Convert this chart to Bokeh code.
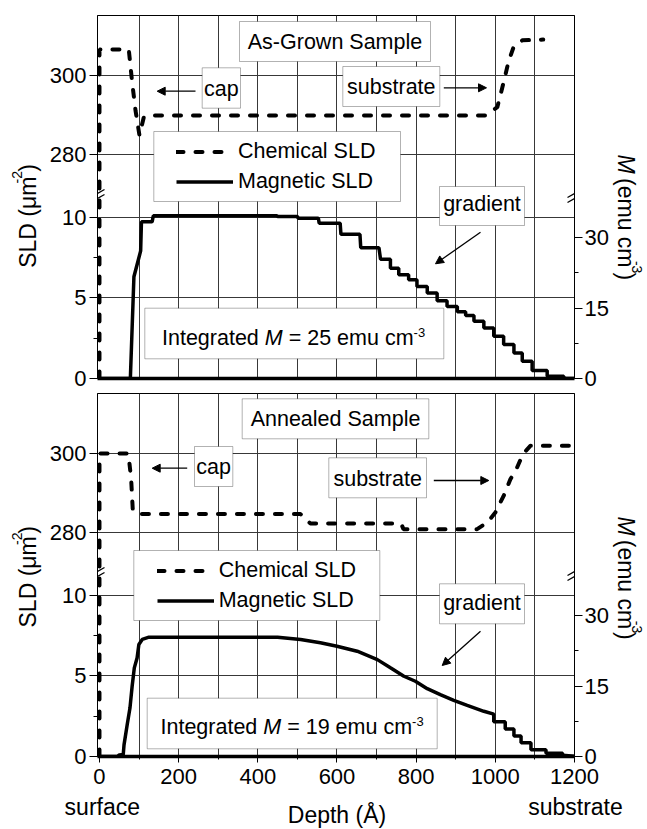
import math
from bokeh.plotting import figure
from bokeh.models import (Range1d, LinearAxis, FixedTicker, Legend, LegendItem,
                          BoxAnnotation, Label, Arrow, NormalHead)
from bokeh.layouts import column, row
from bokeh.embed import file_html
from bokeh.resources import INLINE

FONT = "Liberation Sans"

# ---------------- data ----------------
depth_ticks = [0, 200, 400, 600, 800, 1000, 1200]
depth_minor = [100, 300, 500, 700, 900, 1100]
sld_lower_ticks = [0, 5, 10]
sld_lower_minor = [2.5, 7.5]
sld_upper_ticks = [280, 300]
m_ticks = [0, 15, 30]
m_minor = [7.5, 22.5]

grown_chem_depth = [0, 0, 74, 82, 91, 101, 112, 125, 975, 1005, 1020, 1033, 1046, 1068, 1121]
grown_chem_sld = [0, 306.6, 306.6, 298.8, 291.2, 284.9, 289.5, 289.9, 289.9, 292.0, 297.9,
                  303.4, 307.2, 308.9, 309.1]

grown_mag_depth = [0, 78, 87, 104, 106, 133, 136, 448, 450, 500, 502, 553, 555, 608, 610, 658,
                   660, 706, 710, 735, 735, 756, 756, 781, 781, 802, 802, 828, 828, 853, 853,
                   878, 878, 904, 904, 925, 925, 946, 946, 971, 971, 996, 996, 1021, 1021, 1047,
                   1047, 1068, 1068, 1093, 1093, 1131, 1131, 1173, 1173, 1200]
grown_mag_sld = [0, 0, 6.3, 7.9, 9.7, 9.7, 10.08, 10.08, 10.03, 10.03, 9.92, 9.92, 9.62, 9.62,
                 8.93, 8.93, 8.1, 8.1, 7.39, 7.39, 6.83, 6.83, 6.42, 6.42, 6.11, 6.11, 5.70,
                 5.70, 5.29, 5.29, 4.81, 4.81, 4.46, 4.46, 4.14, 4.14, 3.90, 3.90, 3.54, 3.54,
                 3.13, 3.13, 2.61, 2.61, 2.10, 2.10, 1.58, 1.58, 1.07, 1.07, 0.49, 0.49, 0.14,
                 0.14, 0.0, 0.0]

annealed_chem_depth = [0, 0, 73, 80, 84, 95, 508, 533, 762, 768, 954, 980, 1000, 1021, 1038,
                       1055, 1070, 1089, 1200]
annealed_chem_sld = [0, 300.0, 300.0, 293.6, 286.0, 284.7, 284.7, 282.3, 282.3, 280.9, 280.9,
                     282.6, 285.1, 289.3, 293.5, 296.5, 299.9, 302.0, 302.0]

annealed_mag_depth = [0, 45, 50, 60, 62, 70, 77, 82.5, 88, 95, 99.5, 108, 125, 450, 508, 558,
                      600, 651, 702, 735, 769, 798, 828, 861, 895, 929, 971, 996, 996, 1025,
                      1025, 1047, 1047, 1065, 1065, 1090, 1090, 1128, 1128, 1170, 1170, 1200]
annealed_mag_sld = [0, 0, 0.1, 0.12, 0.72, 1.97, 3.0, 4.35, 5.49, 6.1, 6.94, 7.25, 7.39, 7.39,
                    7.25, 7.04, 6.83, 6.52, 6.0, 5.49, 4.97, 4.66, 4.2, 3.83, 3.48, 3.17, 2.8,
                    2.62, 2.15, 2.15, 1.70, 1.70, 1.27, 1.27, 0.85, 0.85, 0.42, 0.42, 0.2, 0.2,
                    0.07, 0.02]

panel_titles = ["As-Grown Sample", "Annealed Sample"]
integrated_m = ["25", "19"]

# ---------------- broken-axis mapping & geometry (picture pixels) ----------------
X_START, X_END = -5, 1200
Y_TOP = 22.48
BREAK = 11.3
D300 = 18.76
R_UP = 0.245
M_PER_UNIT = 3.44
FRAME_LEFT = 97.0
FRAME_W, FRAME_H = 477, 363
PPX = FRAME_W / (X_END - X_START)
PPU = FRAME_H / Y_TOP
LEFT_W, MAIN_W, RIGHT_W = 44, 567, 36
MB_LEFT = int(FRAME_LEFT - LEFT_W)            # 53
MB_RIGHT = MAIN_W - MB_LEFT - FRAME_W         # 37
K_BASE = 0.34   # empirical correction of the rendered alphabetic baseline


def chem_to_disp(v):
    return v if v <= BREAK else D300 + (v - 300.0) * R_UP


# Arial / Liberation Sans advance widths (per 1000 em)
W = {' ': 278, '(': 333, ')': 333, '-': 333, '=': 584, 'A': 667, 'D': 722, 'G': 778,
     'I': 278, 'L': 556, 'M': 833, 'S': 667, 'a': 556, 'b': 556, 'c': 500, 'd': 556,
     'e': 556, 'g': 556, 'h': 556, 'i': 222, 'l': 222, 'm': 833, 'n': 556, 'o': 556,
     'p': 556, 'r': 333, 's': 500, 't': 278, 'u': 556, 'w': 722, 'f': 278, 'μ': 576, 'Å': 667}
for d in "0123456789":
    W[d] = 556


def tw(s, size):
    return sum(W.get(c, 556) for c in s) / 1000.0 * size


BOX_FS = 21.5
AX_FS = 23
TICK_FS = "22px"
SUP_RAISE = 14

ANN = [
    dict(title_box=(239, 21, 430, 61), title_base=49,
         cap_box=(201.7, 67.3, 240, 107.7), cap_base=95.5, cap_arrow=((195, 90.7), (156.7, 90.7)),
         sub_box=(342.3, 66, 439.3, 106), sub_base=94, sub_arrow=((443.3, 87.3), (486, 87.3)),
         grad_box=(439, 186, 524, 225), grad_base=211, grad_arrow=((480, 231.7), (435, 263.3)),
         leg_box=(153.3, 131, 400, 201), leg_glyph_x=176,
         int_box=(144.3, 307.7, 443.3, 358.3), int_x=161.5, int_base=345,
         left_y=272.5, right_y=150),
    dict(title_box=(241.7, 398.3, 428.3, 438.3), title_base=426,
         cap_box=(194, 446, 232.3, 486), cap_base=474, cap_arrow=((186.7, 467.7), (151.7, 467.7)),
         sub_box=(328.3, 457.3, 426, 497.3), sub_base=486, sub_arrow=((433.3, 480), (488.3, 480)),
         grad_box=(439, 583.3, 524, 623.3), grad_base=610, grad_arrow=((480, 630.7), (441.7, 665)),
         leg_box=(133.3, 550, 379.3, 620), leg_glyph_x=156.7,
         int_box=(146.7, 697.7, 436.7, 748.3), int_x=160, int_base=734,
         left_y=650.5, right_y=528),
]

ROW_GEOM = [  # (row top in picture px, border top, border bottom)
    (0, 15, 14),
    (392, 1, 37),
]


def text_fig(ox, oy, w, h):
    """A figure with no axes whose frame is its whole canvas; used for outside texts."""
    f = figure(width=w, height=h, x_range=Range1d(0, w), y_range=Range1d(0, h),
               output_backend="svg", toolbar_location=None, title=None,
               x_axis_location=None, y_axis_location=None, min_border=0)
    f.outline_line_color = None
    f.grid.visible = False
    f.background_fill_color = "white"
    f.border_fill_color = "white"

    def label(text, px, py, size, align="left", angle=0.0, style="normal"):
        # px, py: wanted baseline position in picture pixels
        if angle > 0:
            px -= K_BASE * size
        elif angle < 0:
            px += K_BASE * size
        else:
            py -= K_BASE * size
        f.add_layout(Label(x=px - ox, y=h - (py - oy), text=text, text_font=FONT,
                           text_font_size=f"{size}px", text_align=align,
                           text_baseline="alphabetic", angle=angle,
                           text_font_style=style, text_color="black"))
    return f, label


def make_panel(idx, chem_d, chem_v, mag_d, mag_v, bottom_axis):
    A = ANN[idx]
    top_y, top_b, bot_b = ROW_GEOM[idx]
    h = top_b + FRAME_H + bot_b
    frame_top = top_y + top_b
    fb = frame_top + FRAME_H

    def dx(px):
        return X_START + (px - FRAME_LEFT) / PPX

    def dy(py):
        return (fb - py) / PPU

    p = figure(width=MAIN_W, height=h,
               x_range=Range1d(X_START, X_END), y_range=Range1d(0, Y_TOP),
               output_backend="svg", toolbar_location=None, title=None,
               min_border_left=MB_LEFT, min_border_right=MB_RIGHT,
               min_border_top=top_b, min_border_bottom=bot_b)
    p.background_fill_color = "white"
    p.border_fill_color = "white"
    p.outline_line_color = "black"
    p.outline_line_width = 1

    # grids
    p.xgrid[0].ticker = FixedTicker(ticks=[t for t in sorted(depth_ticks + depth_minor)
                                           if 0 < t < 1200])
    p.xgrid[0].grid_line_color = "#383838"
    p.xgrid[0].grid_line_width = 1
    left_ticks = sld_lower_ticks + [round(chem_to_disp(v), 4) for v in sld_upper_ticks]
    left_labels = [str(v) for v in sld_lower_ticks + sld_upper_ticks]
    p.ygrid[0].ticker = FixedTicker(ticks=[t for t in left_ticks if t > 0])
    p.ygrid[0].grid_line_color = "#383838"
    p.ygrid[0].grid_line_width = 1

    # curves
    rc = p.line(chem_d, [chem_to_disp(v) for v in chem_v], line_color="black", line_width=4,
                line_dash="7 12", line_cap="round")
    rm = p.line(mag_d, mag_v, line_color="black", line_width=3.5)

    # left axis
    ya = p.yaxis[0]
    ya.ticker = FixedTicker(ticks=left_ticks, minor_ticks=sld_lower_minor)
    ya.major_label_overrides = {t: l for t, l in zip(left_ticks, left_labels)}
    # right axis (M)
    p.extra_y_ranges = {"M": Range1d(0, Y_TOP * M_PER_UNIT)}
    ra = LinearAxis(y_range_name="M", ticker=FixedTicker(ticks=m_ticks, minor_ticks=m_minor))
    p.add_layout(ra, "right")
    for ax, stand in ((ya, 3), (ra, 2)):
        ax.axis_line_color = "black"
        ax.axis_line_width = 1
        ax.major_tick_line_color = "black"
        ax.minor_tick_line_color = "black"
        ax.major_tick_out = 8
        ax.major_tick_in = 0
        ax.minor_tick_out = 4
        ax.minor_tick_in = 0
        ax.major_label_text_font = FONT
        ax.major_label_text_font_size = TICK_FS
        ax.major_label_text_color = "black"
        ax.major_label_standoff = stand

    xa = p.xaxis[0]
    xa.axis_line_color = "black"
    xa.axis_line_width = 3.5
    if bottom_axis:
        xa.ticker = FixedTicker(ticks=depth_ticks, minor_ticks=depth_minor)
        xa.major_tick_line_color = "black"
        xa.minor_tick_line_color = "black"
        xa.major_tick_out = 6
        xa.major_tick_in = 0
        xa.minor_tick_out = 3
        xa.minor_tick_in = 0
        xa.major_label_text_font = FONT
        xa.major_label_text_font_size = TICK_FS
        xa.major_label_text_color = "black"
        xa.major_label_standoff = 6
    else:
        # upper panel: depth axis line only, no ticks and no labels
        xa.ticker = FixedTicker(ticks=[], minor_ticks=[])
        xa.major_tick_line_color = None
        xa.minor_tick_line_color = None
        xa.major_label_standoff = 0

    def box(b):
        l, t, r, btm = b
        p.add_layout(BoxAnnotation(left=dx(l), right=dx(r), top=dy(t), bottom=dy(btm),
                                   fill_color="white", fill_alpha=1.0,
                                   line_color="black", line_width=1))

    def label(text, px, py, size, align="center", style="normal"):
        p.add_layout(Label(x=dx(px), y=dy(py - K_BASE * size), text=text, text_font=FONT,
                           text_font_size=f"{size}px", text_align=align,
                           text_baseline="alphabetic",
                           text_font_style=style, text_color="black"))

    def arrow(a, head=True):
        (x0, y0), (x1, y1) = a
        p.add_layout(Arrow(x_start=dx(x0), y_start=dy(y0), x_end=dx(x1), y_end=dy(y1),
                           line_color="black", line_width=1.3,
                           end=NormalHead(size=8, line_color="black", fill_color="black",
                                          line_width=1) if head else None))

    for key, text in (("title", panel_titles[idx]), ("cap", "cap"), ("sub", "substrate"),
                      ("grad", "gradient")):
        b = A[key + "_box"]
        box(b)
        label(text, (b[0] + b[2]) / 2, A[key + "_base"], BOX_FS)
        if key + "_arrow" in A:
            arrow(A[key + "_arrow"])

    # integrated M
    box(A["int_box"])
    x0, base = A["int_x"], A["int_base"]
    label("Integrated", x0, base, BOX_FS, align="left")
    label("M", x0 + tw("Integrated ", BOX_FS), base, BOX_FS, align="left", style="italic")
    label(f"= {integrated_m[idx]} emu cm", x0 + tw("Integrated M ", BOX_FS), base, BOX_FS,
          align="left")
    label("-3", x0 + tw(f"Integrated M = {integrated_m[idx]} emu cm", BOX_FS), base - 8.5, 13,
          align="left")

    # legend (its box drawn separately; legend itself transparent)
    box(A["leg_box"])
    lb = A["leg_box"]
    legend = Legend(items=[LegendItem(label="Chemical SLD", renderers=[rc]),
                           LegendItem(label="Magnetic SLD", renderers=[rm])],
                    location=(A["leg_glyph_x"] - FRAME_LEFT, fb - (lb[1] + 62.5)),
                    orientation="vertical", padding=0, margin=0, spacing=5,
                    glyph_width=57, glyph_height=25, label_height=25, label_standoff=5,
                    border_line_color=None, background_fill_alpha=0,
                    label_text_font=FONT, label_text_font_size=f"{BOX_FS}px",
                    label_text_color="black")
    p.add_layout(legend)

    # axis-break marks
    by = fb - BREAK * PPU
    for axx in (FRAME_LEFT, FRAME_LEFT + FRAME_W):
        for off in (-2.5, 2.5):
            arrow(((axx - 7, by + off + 4), (axx + 7, by + off - 4)), head=False)

    # left axis title
    L, llab = text_fig(0, top_y, LEFT_W, h)
    ly = A["left_y"]
    llab("SLD (μm", 35, ly, AX_FS, angle=math.pi / 2)
    ly2 = ly - tw("SLD (μm", AX_FS)
    llab("-2", 35 - SUP_RAISE, ly2, 14, angle=math.pi / 2)
    llab(")", 35, ly2 - tw("-2", 14), AX_FS, angle=math.pi / 2)

    # right axis title
    R, rlab = text_fig(LEFT_W + MAIN_W, top_y, RIGHT_W, h)
    ry = A["right_y"]
    rlab("M", 618, ry, AX_FS, angle=-math.pi / 2, style="italic")
    rlab("(emu cm", 618, ry + tw("M ", AX_FS), AX_FS, angle=-math.pi / 2)
    ry2 = ry + tw("M (emu cm", AX_FS)
    rlab("-3", 618 + SUP_RAISE, ry2, 14, angle=-math.pi / 2)
    rlab(")", 618, ry2 + tw("-3", 14), AX_FS, angle=-math.pi / 2)

    return row(L, p, R, spacing=0), top_y + h


row1, y1 = make_panel(0, grown_chem_depth, grown_chem_sld, grown_mag_depth, grown_mag_sld, False)
row2, y2 = make_panel(1, annealed_chem_depth, annealed_chem_sld, annealed_mag_depth,
                      annealed_mag_sld, True)

# texts below the depth axis
B, blab = text_fig(0, y2, LEFT_W + MAIN_W + RIGHT_W, 829 - y2)
blab("surface", 101.8, 814, AX_FS, align="center")
blab("substrate", 575, 814, AX_FS, align="center")
blab("Depth (Å)", 336.5, 822, AX_FS, align="center")

layout = column(row1, row2, B, spacing=0)
open("out.html", "w").write(file_html(layout, INLINE))
